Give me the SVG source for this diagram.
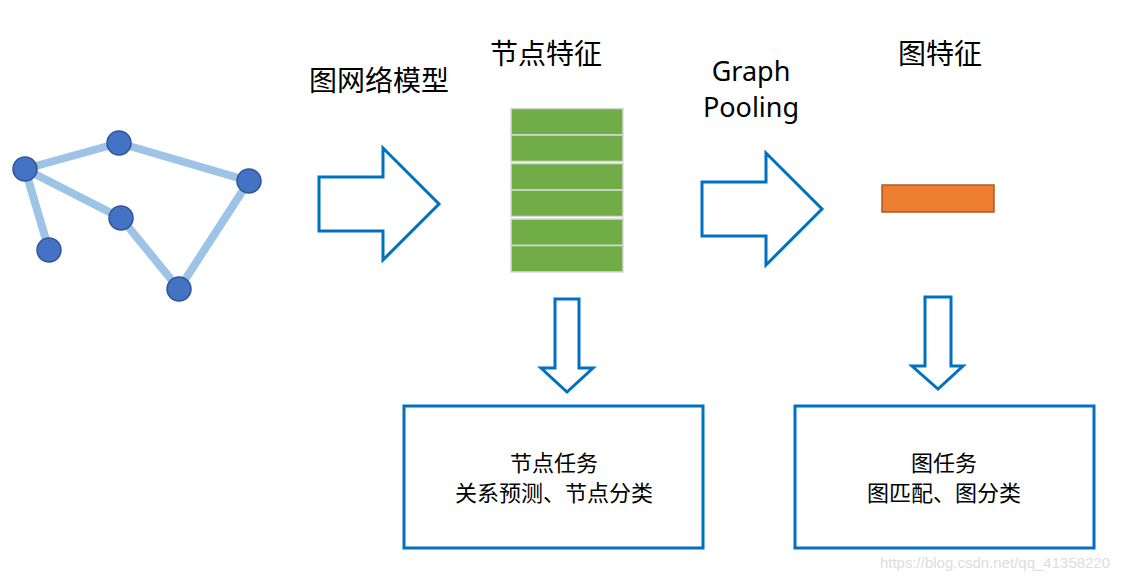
<svg xmlns="http://www.w3.org/2000/svg" width="1126" height="580" viewBox="0 0 1126 580">
<style>
.t{font-family:"Noto Sans CJK SC","Noto Sans",sans-serif;fill:#000;text-anchor:middle}
.title{font-size:28px}
.en{font-family:"Noto Sans",sans-serif;font-size:27px;fill:#000;text-anchor:middle}
.lbl{font-size:22px}
.arrow{fill:#fff;stroke:#0070C0;stroke-width:3;stroke-linejoin:miter}
.edge{stroke:#9DC3E6;stroke-width:8;stroke-linecap:butt}
.gn{fill:#4472C4;stroke:#2F5597;stroke-width:1.5}
.bar{fill:#70AD47;stroke:#D9D9D9;stroke-width:1.5}
.box{fill:#fff;stroke:#0070C0;stroke-width:3}
</style>
<rect width="1126" height="580" fill="#fff"/>
<g id="graph-edges">
<line class="edge" x1="25" y1="169" x2="119" y2="143"/>
<line class="edge" x1="119" y1="143" x2="249" y2="181"/>
<line class="edge" x1="25" y1="169" x2="121" y2="218"/>
<line class="edge" x1="121" y1="218" x2="179" y2="289"/>
<line class="edge" x1="179" y1="289" x2="249" y2="181"/>
<line class="edge" x1="25" y1="169" x2="49" y2="250"/>
</g>
<g id="graph-nodes">
<circle class="gn" cx="25" cy="169" r="12"/>
<circle class="gn" cx="119" cy="143" r="12"/>
<circle class="gn" cx="249" cy="181" r="12"/>
<circle class="gn" cx="121" cy="218" r="12"/>
<circle class="gn" cx="49" cy="250" r="12"/>
<circle class="gn" cx="179" cy="289" r="12"/>
</g>
<g id="title-gnn"><text class="t title" x="379" y="91">图网络模型</text></g>
<g id="node-features">
<text class="t title" x="546" y="64">节点特征</text>
<rect class="bar" x="511" y="108.5" width="112" height="26.5"/>
<rect class="bar" x="511" y="135" width="112" height="26.5"/>
<rect class="bar" x="511" y="163.5" width="112" height="26.5"/>
<rect class="bar" x="511" y="190" width="112" height="26.5"/>
<rect class="bar" x="511" y="219" width="112" height="26.5"/>
<rect class="bar" x="511" y="245.5" width="112" height="26.5"/>
</g>
<g id="title-pooling">
<text class="en" x="751" y="81">Graph</text>
<text class="en" x="751" y="117">Pooling</text>
</g>
<g id="graph-feature">
<text class="t title" x="940" y="64">图特征</text>
<rect x="882" y="185" width="112" height="27" fill="#ED7D31" stroke="#AE5A21" stroke-width="1.5"/>
</g>
<g id="connectors">
<polygon class="arrow" points="319,177 383,177 383,148 439,204 383,260 383,231 319,231"/>
<polygon class="arrow" points="702,182 766,182 766,153 822,209 766,265 766,236 702,236"/>
<polygon class="arrow" points="555,299 579,299 579,368 593,368 567,392 541,368 555,368"/>
<polygon class="arrow" points="925,297 951,297 951,366 963,366 938,389 912,366 925,366"/>
</g>
<g id="node-task">
<rect class="box" x="404" y="406" width="299" height="142"/>
<text class="t lbl" x="554" y="471">节点任务</text>
<text class="t lbl" x="554" y="501">关系预测、节点分类</text>
</g>
<g id="graph-task">
<rect class="box" x="795" y="406" width="299" height="142"/>
<text class="t lbl" x="944" y="471">图任务</text>
<text class="t lbl" x="944" y="501">图匹配、图分类</text>
</g>
<text x="995" y="568" font-family="Liberation Sans,Arial,sans-serif" font-size="15" fill="#DDDDDD" text-anchor="middle">https://blog.csdn.net/qq_41358220</text>
</svg>
